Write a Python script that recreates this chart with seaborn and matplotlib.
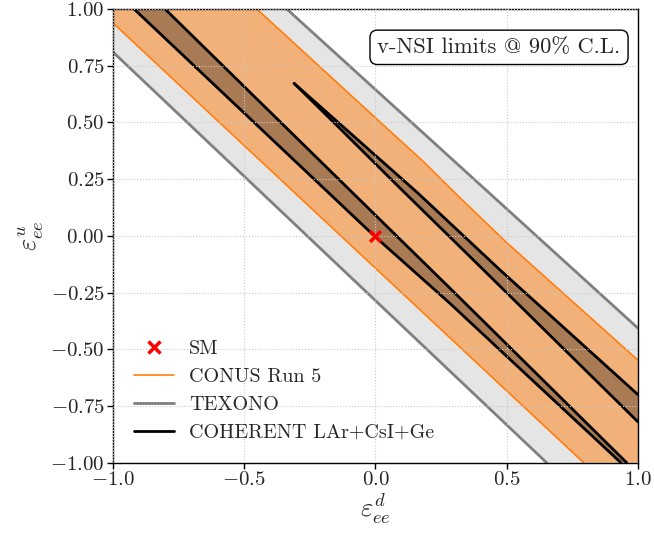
import numpy as np
import pandas as pd
import matplotlib
matplotlib.use("Agg")
import matplotlib.pyplot as plt
import seaborn as sns
from matplotlib.lines import Line2D
from matplotlib.ticker import FuncFormatter

# ---- data ----
# TEXONO band edges
texono_lo_x = [-1.0, 0.652]
texono_lo_y = [0.81, -1.0]
texono_hi_x = [-0.338, 1.0]
texono_hi_y = [1.0, -0.407]

# CONUS Run 5 band edges
conus_lo_x = [-1.0, 0.793]
conus_lo_y = [0.938, -1.0]
conus_hi_x = [-0.452, 0.0, 0.18, 0.32, 0.5, 1.0]
conus_hi_y = [1.0, 0.52, 0.33, 0.17, -0.03, -0.548]

# COHERENT LAr+CsI+Ge: band A (through SM)
cohA_lo_x = [-0.92, -0.005, 0.283, 0.935]
cohA_lo_y = [1.0, 0.0, -0.297, -1.0]
cohA_hi_x = [-0.802, 0.283, 0.957]
cohA_hi_y = [1.0, -0.23, -1.0]
# COHERENT band B (with tip)
cohB_hi_x = [-0.31, 0.16, 0.474, 1.0]
cohB_hi_y = [0.672, 0.19, -0.15, -0.70]
cohB_lo_x = [-0.31, -0.159, 0.085, 0.406, 1.0]
cohB_lo_y = [0.672, 0.5, 0.22, -0.144, -0.82]

sm_x = [0.0]
sm_y = [0.0]

xlim = (-1.0, 1.0)
ylim = (-1.0, 1.0)
xticks = [-1.0, -0.5, 0.0, 0.5, 1.0]
yticks = [-1.0, -0.75, -0.5, -0.25, 0.0, 0.25, 0.5, 0.75, 1.0]

# ---- style ----
sns.set_theme(style="ticks")
plt.rcParams["font.family"] = ["cmr10", "DejaVu Serif"]
plt.rcParams["mathtext.fontset"] = "cm"
plt.rcParams["axes.formatter.use_mathtext"] = True

fig = plt.figure(figsize=(6.54, 5.34), dpi=100)
ax = fig.add_axes([0.1728, 0.1335, 0.8027, 0.8497])

gray_fill = (0.5, 0.5, 0.5, 0.2)
orange = "#ff7f0e"

# TEXONO fill
poly_x = texono_lo_x + [xlim[1]] + texono_hi_x[::-1] + [xlim[0]]
poly_y = texono_lo_y + [ylim[0]] + texono_hi_y[::-1] + [ylim[1]]
ax.fill(poly_x, poly_y, color=gray_fill, lw=0, zorder=1)
# CONUS fill
poly_x = conus_lo_x + [xlim[1]] + conus_hi_x[::-1] + [xlim[0]]
poly_y = conus_lo_y + [ylim[0]] + conus_hi_y[::-1] + [ylim[1]]
ax.fill(poly_x, poly_y, color=orange, alpha=0.5, lw=0, zorder=1.1)
# COHERENT fills
ax.fill(cohA_lo_x + cohA_hi_x[::-1], cohA_lo_y + cohA_hi_y[::-1],
        color="black", alpha=0.3, lw=0, zorder=1.2)
ax.fill(cohB_hi_x + cohB_lo_x[::-1], cohB_hi_y + cohB_lo_y[::-1],
        color="black", alpha=0.3, lw=0, zorder=1.2)

def edge(xs, ys, color, lw):
    sns.lineplot(x=xs, y=ys, sort=False, estimator=None, color=color,
                 lw=lw, ax=ax, zorder=2)

edge(texono_lo_x, texono_lo_y, "gray", 2.0)
edge(texono_hi_x, texono_hi_y, "gray", 2.0)
edge(conus_lo_x, conus_lo_y, orange, 1.2)
edge(conus_hi_x, conus_hi_y, orange, 1.2)
edge(cohA_lo_x, cohA_lo_y, "black", 2.0)
edge(cohA_hi_x, cohA_hi_y, "black", 2.0)
edge(cohB_hi_x, cohB_hi_y, "black", 2.0)
edge(cohB_lo_x, cohB_lo_y, "black", 2.0)

sns.scatterplot(x=sm_x, y=sm_y, marker="x", color="red", s=60,
                linewidth=2.5, ax=ax, zorder=3)

ax.set_xlim(*xlim)
ax.set_ylim(*ylim)
ax.set_xticks(xticks)
ax.set_yticks(yticks)
ax.xaxis.set_major_formatter(FuncFormatter(lambda v, p: f"${v:.1f}$"))
ax.yaxis.set_major_formatter(FuncFormatter(lambda v, p: f"${v:.2f}$"))
ax.tick_params(labelsize=15, direction="out", length=4, width=1,
               color="black", pad=2)
for sp in ax.spines.values():
    sp.set_visible(True)
    sp.set_color("black")
    sp.set_linewidth(1.0)
ax.set_axisbelow(False)
ax.grid(True, ls=":", lw=0.8, color="#c8c8c8")

ax.set_xlabel(r"$\varepsilon_{ee}^{d}$", fontsize=19, labelpad=2)
ax.set_ylabel(r"$\varepsilon_{ee}^{u}$", fontsize=19, labelpad=3)

handles = [
    Line2D([], [], ls="none", marker="x", color="red", markersize=8, mew=2.5),
    Line2D([], [], color=orange, lw=1.2),
    Line2D([], [], color="gray", lw=2.0),
    Line2D([], [], color="black", lw=2.0),
]
labels = ["SM", "CONUS Run 5", "TEXONO", "COHERENT LAr+CsI+Ge"]
ax.legend(handles, labels, loc="lower left", frameon=False, fontsize=14.5,
          handlelength=2.0, handletextpad=0.73, labelspacing=0.49,
          borderaxespad=0.64)

ax.text(0.967, 0.937, "v-NSI limits @ 90% C.L.", transform=ax.transAxes,
        ha="right", va="top", fontsize=16.2, zorder=5,
        bbox=dict(boxstyle="round,pad=0.33", fc="white", ec="black", lw=1.0))

fig.savefig("out.png", dpi=100)
